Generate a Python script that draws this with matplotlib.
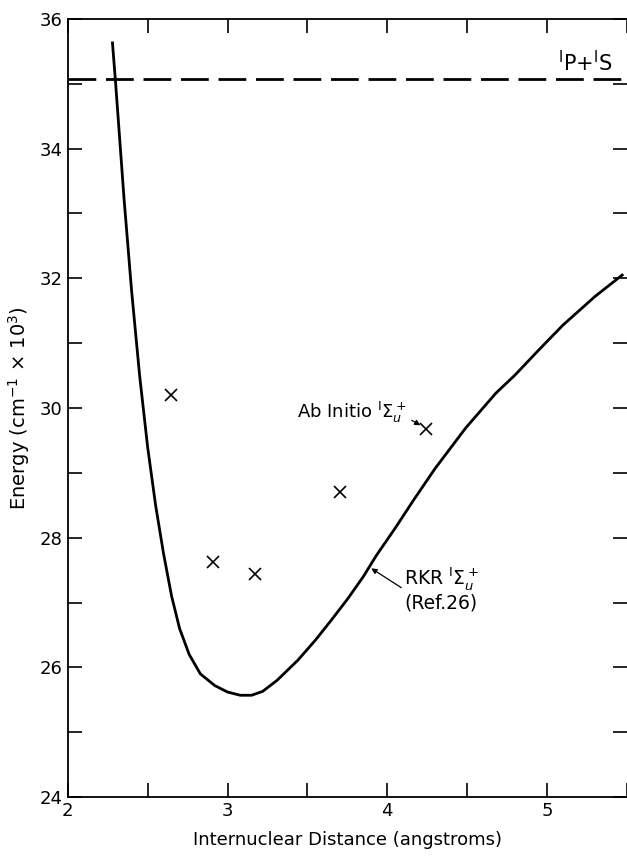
import matplotlib
matplotlib.use("Agg")
import matplotlib.pyplot as plt
from matplotlib.ticker import MultipleLocator

# RKR potential curve for the A 1Sigma_u+ state
rkr_r = [2.28, 2.30, 2.353, 2.40, 2.45, 2.50, 2.55, 2.60, 2.65, 2.70, 2.76,
         2.83, 2.92, 3.00, 3.08, 3.15, 3.22, 3.31, 3.44, 3.55, 3.65, 3.75,
         3.85, 3.93, 4.05, 4.17, 4.30, 4.49, 4.68, 4.80, 4.95, 5.10, 5.30,
         5.47]
rkr_e = [35.63, 35.0, 33.21, 31.8, 30.5, 29.4, 28.5, 27.75, 27.1, 26.6, 26.2,
         25.9, 25.72, 25.62, 25.57, 25.57, 25.63, 25.80, 26.11, 26.42, 26.73,
         27.05, 27.40, 27.72, 28.15, 28.60, 29.07, 29.69, 30.23, 30.51, 30.90,
         31.28, 31.72, 32.05]

# ab initio points
abi_r = [2.646, 2.910, 3.175, 3.704, 4.245]
abi_e = [30.20, 27.62, 27.44, 28.70, 29.68]

asymptote = 35.08

plt.rcParams['font.family'] = ['DejaVu Sans']

fig = plt.figure(figsize=(6.27, 8.58), dpi=100)
ax = fig.add_axes([0.108, 0.071, 0.892, 0.907])

ax.plot(rkr_r, rkr_e, color='black', lw=2.0, solid_joinstyle='round')
ax.plot(abi_r, abi_e, 'x', color='black', ms=8, mew=1.2)
ax.axhline(asymptote, color='black', lw=2.0, dashes=(10, 3.5))

ax.set_xlim(2, 5.5)
ax.set_ylim(24, 36)

ax.xaxis.set_major_locator(MultipleLocator(1))
ax.xaxis.set_minor_locator(MultipleLocator(0.5))
ax.yaxis.set_major_locator(MultipleLocator(2))
ax.yaxis.set_minor_locator(MultipleLocator(1))
ax.tick_params(which='both', direction='in', top=True, right=True,
               labelsize=13, width=1.2, length=10)
ax.spines['right'].set_visible(False)
for s in ('left', 'bottom', 'top'):
    ax.spines[s].set_linewidth(1.3)

ax.set_xlabel('Internuclear Distance (angstroms)', fontsize=13, labelpad=8)
ax.set_ylabel(r'Energy (cm$^{-1}$ $\times$ 10$^3$)', fontsize=14, labelpad=6)

ax.text(5.07, 35.32, r'$^{\rm I}$P+$^{\rm I}$S', fontsize=15, ha='left', va='center')

ax.annotate(r'Ab Initio $^{\rm I}\Sigma_u^+$', xy=(4.245, 29.68), xytext=(4.12, 29.74),
            fontsize=13, ha='right', va='bottom',
            arrowprops=dict(arrowstyle='-|>', color='black', lw=0.9,
                            shrinkA=2, shrinkB=5, mutation_scale=8,
                            relpos=(1.0, 0.3)))
ax.annotate('RKR $^{\\rm I}\\Sigma_u^+$\n(Ref.26)', xy=(3.885, 27.55), xytext=(4.105, 26.85),
            fontsize=13.5, ha='left', va='bottom', linespacing=1.1,
            arrowprops=dict(arrowstyle='-|>', color='black', lw=0.9,
                            shrinkA=0, shrinkB=2, mutation_scale=8,
                            relpos=(-0.02, 0.5)))

fig.savefig('out.png', dpi=100)
